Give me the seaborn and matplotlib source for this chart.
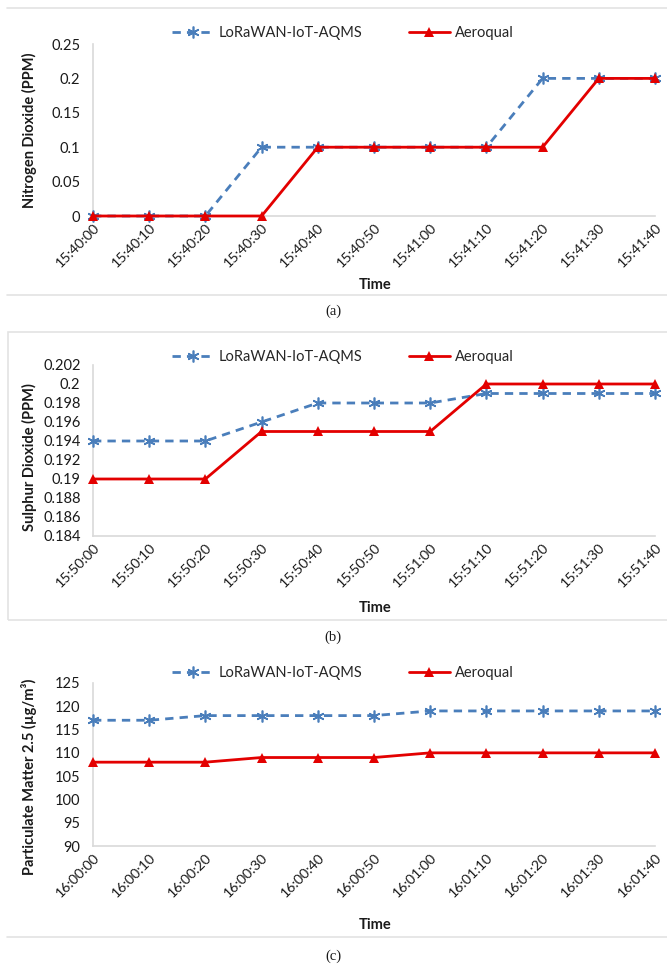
import numpy as np
import pandas as pd
import matplotlib
matplotlib.use("Agg")
import matplotlib.pyplot as plt
import seaborn as sns
from matplotlib.lines import Line2D
from matplotlib.patches import Rectangle
from matplotlib.ticker import FuncFormatter

sns.set_style("white")
plt.rcParams["font.family"] = ["Lato", "DejaVu Sans"]

# ---- data ----
times_no2 = ["15:40:00", "15:40:10", "15:40:20", "15:40:30", "15:40:40", "15:40:50",
             "15:41:00", "15:41:10", "15:41:20", "15:41:30", "15:41:40"]
no2_lora = [0, 0, 0, 0.1, 0.1, 0.1, 0.1, 0.1, 0.2, 0.2, 0.2]
no2_aero = [0, 0, 0, 0, 0.1, 0.1, 0.1, 0.1, 0.1, 0.2, 0.2]

times_so2 = ["15:50:00", "15:50:10", "15:50:20", "15:50:30", "15:50:40", "15:50:50",
             "15:51:00", "15:51:10", "15:51:20", "15:51:30", "15:51:40"]
so2_lora = [0.194, 0.194, 0.194, 0.196, 0.198, 0.198, 0.198, 0.199, 0.199, 0.199, 0.199]
so2_aero = [0.190, 0.190, 0.190, 0.195, 0.195, 0.195, 0.195, 0.200, 0.200, 0.200, 0.200]

times_pm = ["16:00:00", "16:00:10", "16:00:20", "16:00:30", "16:00:40", "16:00:50",
            "16:01:00", "16:01:10", "16:01:20", "16:01:30", "16:01:40"]
pm_lora = [117, 117, 118, 118, 118, 118, 119, 119, 119, 119, 119]
pm_aero = [108, 108, 108, 109, 109, 109, 110, 110, 110, 110, 110]

series_names = ["LoRaWAN-IoT-AQMS", "Aeroqual"]

BLUE = "#4a7ebb"
RED = "#e30000"
GRID = "#d9d9d9"
TEXT = "#1a1a1a"
DASH = (0, (3.0, 2.2))

W, H = 667, 967
fig = plt.figure(figsize=(W / 100, H / 100), dpi=100)


def fx(px):
    return px / W


def fy(py):
    return 1 - py / H


# light frames around panels
fig.add_artist(Line2D([fx(7), 1], [fy(8), fy(8)], color="#e3e3e3", lw=1.2))
fig.add_artist(Line2D([fx(7), 1], [fy(295), fy(295)], color="#e3e3e3", lw=1.2))
fig.add_artist(Rectangle((fx(8), fy(620)), 1, fy(332) - fy(620), fill=False,
                         edgecolor="#e3e3e3", lw=1.2, transform=fig.transFigure))
fig.add_artist(Line2D([fx(7), 1], [fy(937), fy(937)], color="#e3e3e3", lw=1.2))


def panel(top_px, bot_px, times, lora, aero, yticks, ylabel, ylabel_y,
          legend_y, time_y, cap_y, cap):
    ax = fig.add_axes([fx(93), fy(bot_px), fx(655) - fx(93), fy(top_px) - fy(bot_px)])
    df = pd.DataFrame({
        "idx": list(range(len(times))) * 2,
        "value": list(lora) + list(aero),
        "series": [series_names[0]] * len(times) + [series_names[1]] * len(times),
    })
    sns.lineplot(data=df[df.series == series_names[0]], x="idx", y="value", ax=ax,
                 color=BLUE, lw=2, linestyle=DASH, marker=(6, 2, 0),
                 markersize=8.5, markeredgewidth=1.2, markeredgecolor=BLUE,
                 clip_on=False, zorder=3, legend=False)
    sns.lineplot(data=df[df.series == series_names[1]], x="idx", y="value", ax=ax,
                 color=RED, lw=2, marker="^", markersize=7, markeredgewidth=0,
                 clip_on=False, zorder=4, legend=False)
    ax.set_xlim(0, len(times) - 1)
    ax.set_ylim(yticks[0], yticks[-1])
    ax.set_yticks(yticks)
    ax.yaxis.set_major_formatter(FuncFormatter(lambda v, p: f"{round(v, 4):g}"))
    ax.set_xticks(range(len(times)))
    ax.set_xticklabels(times, rotation=45, ha="right", rotation_mode="anchor")
    for s in ["top", "right"]:
        ax.spines[s].set_visible(False)
    for s in ["left", "bottom"]:
        ax.spines[s].set_color(GRID)
        ax.spines[s].set_linewidth(1.2)
    ax.tick_params(axis="y", length=0, labelsize=10.5, labelcolor=TEXT, pad=9)
    ax.tick_params(axis="x", direction="inout", length=6, width=1, color=GRID,
                   labelsize=10.2, labelcolor=TEXT, pad=1)
    ax.set_xlabel("")
    ax.set_ylabel("")
    ax.grid(False)
    fig.text(fx(29), fy(ylabel_y), ylabel, rotation=90, ha="center", va="center",
             fontsize=10.5, fontweight="bold", color=TEXT)
    fig.text(fx(375), fy(time_y), "Time", ha="center", va="center",
             fontsize=10.5, fontweight="bold", color=TEXT)
    fig.text(fx(333), fy(cap_y), cap, ha="center", va="center",
             fontsize=10.5, family=["Liberation Serif", "DejaVu Serif"], color=TEXT)
    handles = [
        Line2D([], [], color=BLUE, lw=2, linestyle=DASH, marker=(6, 2, 0),
               markersize=8.5, markeredgewidth=1.2),
        Line2D([], [], color=RED, lw=2, marker="^", markersize=7, markeredgewidth=0),
    ]
    fig.legend(handles, series_names, loc="center", ncol=2, frameon=False,
               bbox_to_anchor=(fx(343), fy(legend_y)), fontsize=10.5,
               handlelength=2.8, columnspacing=3.2, handletextpad=0.35)
    return ax


panel(44, 216, times_no2, no2_lora, no2_aero, [0, 0.05, 0.1, 0.15, 0.2, 0.25],
      "Nitrogen Dioxide (PPM)", 130, 33, 285, 311, "(a)")
panel(365, 536, times_so2, so2_lora, so2_aero,
      [0.184, 0.186, 0.188, 0.19, 0.192, 0.194, 0.196, 0.198, 0.2, 0.202],
      "Sulphur Dioxide (PPM)", 457, 357, 608, 637, "(b)")
panel(683, 846, times_pm, pm_lora, pm_aero, [90, 95, 100, 105, 110, 115, 120, 125],
      "Particulate Matter 2.5 (µg/m³)", 777, 673, 925, 956, "(c)")

fig.savefig("out.png", dpi=100)
